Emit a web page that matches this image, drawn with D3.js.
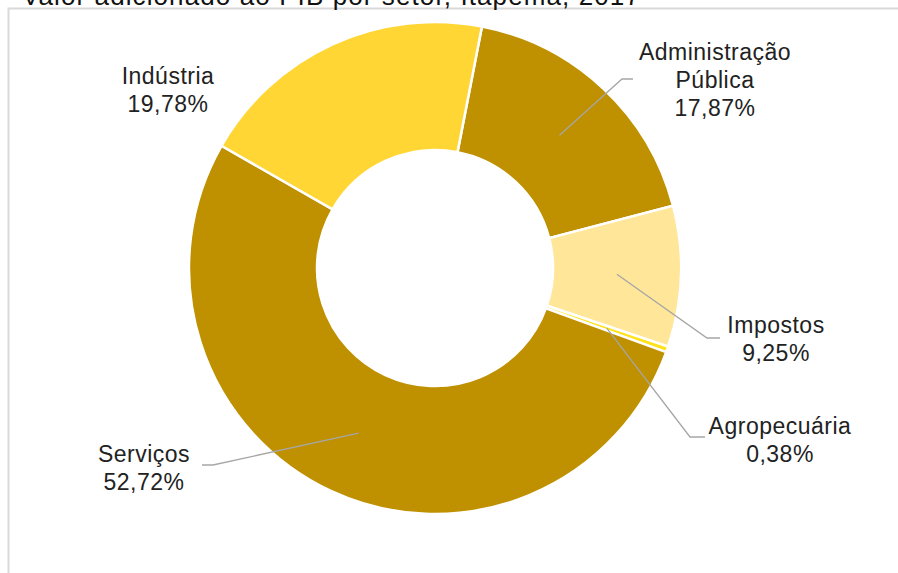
<!DOCTYPE html>
<html>
<head>
<meta charset="utf-8">
<script src="https://cdn.jsdelivr.net/npm/d3@7"></script>
<style>
  body { margin: 0; background: #fff; overflow: hidden; }
  text { font-family: "Liberation Sans", Arial, sans-serif; fill: #222; }
  .lbl { font-size: 23px; letter-spacing: 0.5px; }
  .title { font-size: 26px; letter-spacing: 1.1px; fill: #111; }
</style>
</head>
<body>
<svg id="chart" width="898" height="573"></svg>
<script>
// ---------------- data ----------------
const sectors = ["Administração Pública", "Impostos", "Agropecuária", "Serviços", "Indústria"];
const shares = [17.87, 9.25, 0.38, 52.72, 19.78];
const colors = ["#bf9000", "#ffe699", "#ffe31a", "#bf9000", "#ffd633"];
const title = "Valor adicionado ao PIB por setor, Itapema, 2017";

// ---------------- layout ----------------
const W = 898, H = 573;
const cx = 435, cy = 268;
const outerR = 246, innerR = 118;
const startDeg = 11;

// label placement, relative to centre (label centre x, first baseline y, elbow, end x)
const labelPos = [
    { lines: ["Administração", "Pública"], x: 280, y: -208, elbow: [187, -189], end: 198 },
    { lines: ["Impostos"], x: 341, y: 65, elbow: [272, 70], end: 285 },
    { lines: ["Agropecuária"], x: 345, y: 166, elbow: [255, 169], end: 270 },
    { lines: ["Serviços"], x: -291, y: 194, elbow: [-222, 197], end: -233 },
    { lines: ["Indústria"], x: -267, y: -184, elbow: null, end: null }
];

const fmt = v => v.toFixed(2).replace(".", ",") + "%";

const svg = d3.select("#chart");

// frame of the chart area
svg.append("rect")
    .attr("x", 8.5).attr("y", 8.5)
    .attr("width", W + 20).attr("height", H + 20)
    .attr("fill", "#fff")
    .attr("stroke", "#d9d9d9")
    .attr("stroke-width", 2);

// title, cut off at the very top as in the original screenshot
svg.append("text")
    .attr("class", "title")
    .attr("x", 22).attr("y", 5)
    .text(title);

const data = sectors.map((s, i) => ({ name: s, value: shares[i], color: colors[i], pos: labelPos[i] }));

const pie = d3.pie()
    .sort(null)
    .value(d => d.value)
    .startAngle(startDeg * Math.PI / 180)
    .endAngle((startDeg + 360) * Math.PI / 180);

const arc = d3.arc().innerRadius(innerR).outerRadius(outerR);
const lineArc = d3.arc().innerRadius(182).outerRadius(182);

const g = svg.append("g").attr("transform", `translate(${cx},${cy})`);

const arcs = pie(data);

g.selectAll("path.slice")
    .data(arcs)
    .enter()
    .append("path")
    .attr("class", "slice")
    .attr("d", arc)
    .attr("fill", d => d.data.color)
    .attr("stroke", "#fff")
    .attr("stroke-width", 2.5);

// leader lines
g.selectAll("polyline")
    .data(arcs.filter(d => d.data.pos.elbow))
    .enter()
    .append("polyline")
    .attr("points", d => {
        const p = lineArc.centroid(d);
        const e = d.data.pos.elbow;
        return [p, e, [d.data.pos.end, e[1]]].map(q => q.join(",")).join(" ");
    })
    .attr("fill", "none")
    .attr("stroke", "#a6a6a6")
    .attr("stroke-width", 1.3);

// labels
arcs.forEach(d => {
    const p = d.data.pos;
    const t = g.append("text")
        .attr("class", "lbl")
        .attr("text-anchor", "middle")
        .attr("x", p.x).attr("y", p.y);
    const lines = p.lines.concat([fmt(d.data.value)]);
    lines.forEach((l, i) => {
        t.append("tspan")
            .attr("x", p.x)
            .attr("dy", i === 0 ? 0 : 28)
            .text(l);
    });
});
</script>
</body>
</html>
